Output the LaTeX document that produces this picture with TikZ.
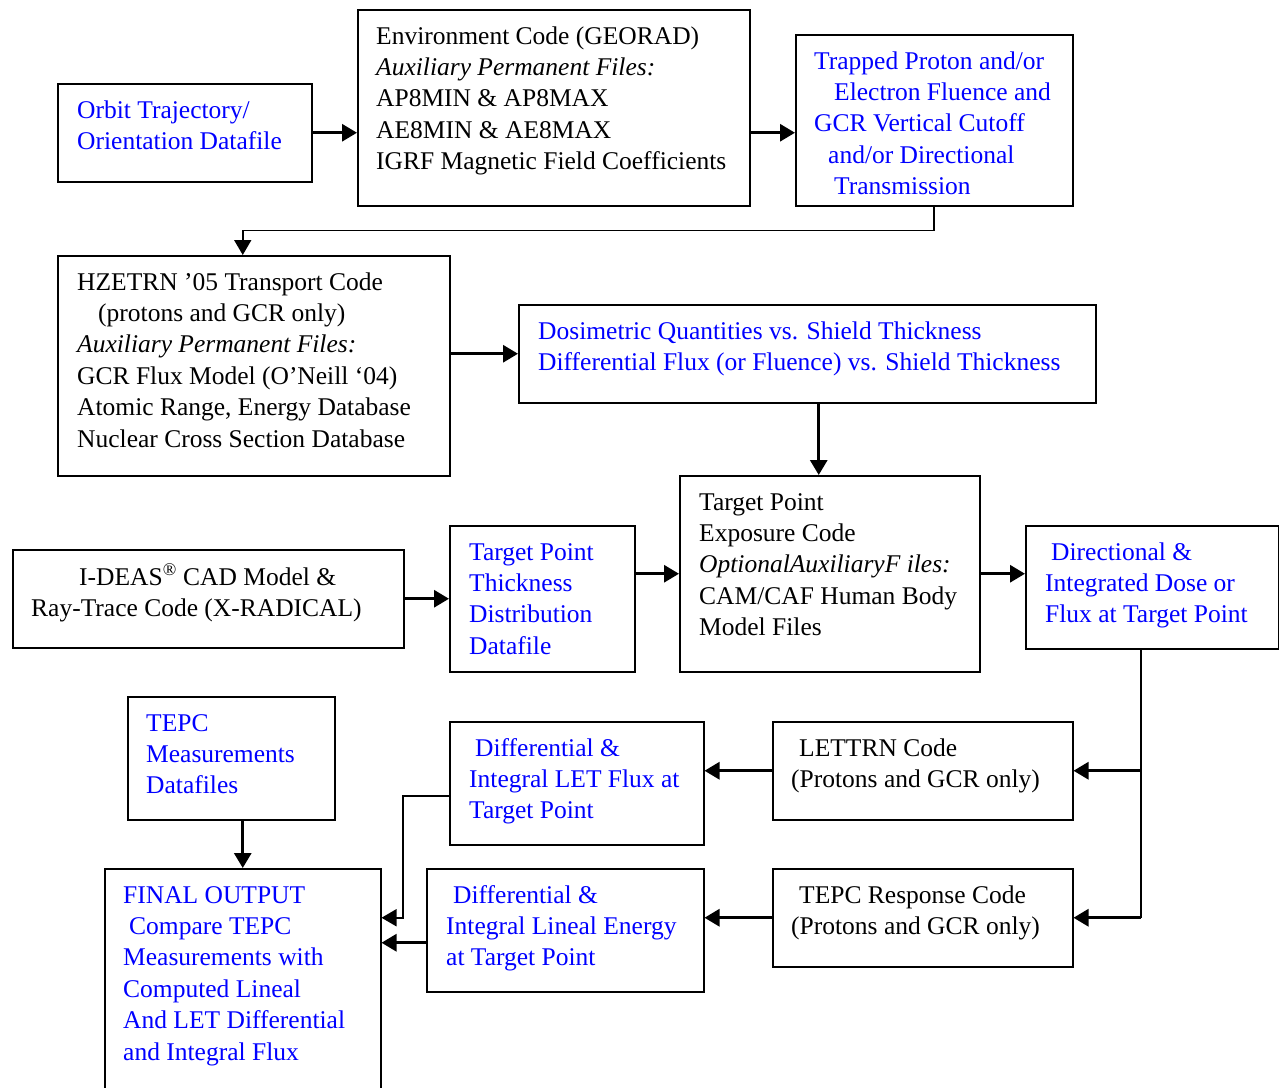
\documentclass[tikz,border=0pt]{standalone}
\usepackage{fontspec}
\setmainfont{Liberation Serif}
\usetikzlibrary{arrows.meta}
\definecolor{txtblue}{RGB}{0,0,255}
\tikzset{
  box/.style={draw=black, line width=1.5pt, anchor=north west, inner sep=0pt},
  txt/.style={anchor=base west, inner sep=0pt, font=\fontsize{25.5}{31.4}\selectfont},
  bl/.style={txt, text=txtblue},
  heavy/.style={line width=3pt, -{Triangle[length=15pt,width=17pt]}},
  light/.style={line width=1.8pt, -{Triangle[length=15pt,width=17pt]}},
  plain/.style={line width=1.8pt}
}
\newcommand{\pb}[1]{\parbox[t]{600pt}{#1}}
\begin{document}
\begin{tikzpicture}[x=1pt,y=-1pt]
\useasboundingbox (0,0) rectangle (1279,1087);
\fill[white] (0,0) rectangle (1279,1087);
\clip (0,0) rectangle (1279,1087);

% boxes
\node[box, minimum width=254pt, minimum height=98pt] (orbit) at (57,83) {};
\node[box, minimum width=392pt, minimum height=196pt] (env) at (357,9) {};
\node[box, minimum width=277pt, minimum height=171pt] (trap) at (795,34) {};
\node[box, minimum width=392pt, minimum height=220pt] (hze) at (57,255) {};
\node[box, minimum width=577pt, minimum height=98pt] (dos) at (518,304) {};
\node[box, minimum width=300pt, minimum height=196pt] (tpe) at (679,475) {};
\node[box, minimum width=391pt, minimum height=98pt] (ideas) at (12,549) {};
\node[box, minimum width=185pt, minimum height=146pt] (thick) at (449,525) {};
\node[box, minimum width=253pt, minimum height=123pt] (dir) at (1025,525) {};
\node[box, minimum width=207pt, minimum height=123pt] (tepcm) at (127,696) {};
\node[box, minimum width=254pt, minimum height=123pt] (dlet) at (449,721) {};
\node[box, minimum width=300pt, minimum height=98pt] (lettrn) at (772,721) {};
\node[box, minimum width=276pt, minimum height=240pt] (final) at (104,868) {};
\node[box, minimum width=277pt, minimum height=123pt] (dlin) at (426,868) {};
\node[box, minimum width=300pt, minimum height=98pt] (tepcr) at (772,868) {};

% texts
\node[bl] (orbit-t) at (77,118) {\pb{Orbit Trajectory/\\Orientation Datafile}};
\node[txt] (env-t) at (376,44) {\pb{Environment Code (GEORAD)\\\textit{Auxiliary Permanent Files:}\\AP8MIN \& AP8MAX\\AE8MIN \& AE8MAX\\IGRF Magnetic Field Coefficients}};
\node[bl] (trap-t) at (814,69) {\pb{Trapped Proton and/or\\\hspace*{20pt}Electron Fluence and\\GCR Vertical Cutoff\\\hspace*{14pt}and/or Directional\\\hspace*{20pt}Transmission}};
\node[txt] (hze-t) at (77,290) {\pb{HZETRN ’05 Transport Code\\\hspace*{21pt}(protons and GCR only)\\\textit{Auxiliary Permanent Files:}\\GCR Flux Model (O’Neill ‘04)\\Atomic Range, Energy Database\\Nuclear Cross Section Database}};
\node[bl] (dos-t) at (538,339) {\pb{Dosimetric Quantities vs. Shield Thickness\\Differential Flux (or Fluence) vs. Shield Thickness}};
\node[txt] (tpe-t) at (699,510) {\pb{Target Point\\Exposure Code\\\textit{OptionalAuxiliaryF iles:}\\CAM/CAF Human Body\\Model Files}};
\node[txt] (ideas-t) at (31,585) {\pb{\hspace*{48pt}I-DEAS\textsuperscript{®} CAD Model \&\\Ray-Trace Code (X-RADICAL)}};
\node[bl] (thick-t) at (469,560) {\pb{Target Point\\Thickness\\Distribution\\Datafile}};
\node[bl] (dir-t) at (1045,560) {\pb{\hspace*{6pt}Directional \&\\Integrated Dose or\\Flux at Target Point}};
\node[bl] (tepcm-t) at (146,731) {\pb{TEPC\\Measurements\\Datafiles}};
\node[bl] (dlet-t) at (469,756) {\pb{\hspace*{6pt}Differential \&\\Integral LET Flux at\\Target Point}};
\node[txt] (lettrn-t) at (791,756) {\pb{\hspace*{8pt}LETTRN Code\\(Protons and GCR only)}};
\node[bl] (final-t) at (123,903) {\pb{FINAL OUTPUT\\\hspace*{6pt}Compare TEPC\\Measurements with\\Computed Lineal\\And LET Differential\\and Integral Flux}};
\node[bl] (dlin-t) at (446,903) {\pb{\hspace*{7pt}Differential \&\\Integral Lineal Energy\\at Target Point}};
\node[txt] (tepcr-t) at (791,903) {\pb{\hspace*{8pt}TEPC Response Code\\(Protons and GCR only)}};

% connectors
\draw[heavy] (orbit.east) -- (orbit.east -| env.west);
\draw[heavy] (env.east |- orbit.east) -- (trap.west |- orbit.east);
\draw[light] (trap.south) -- ++(0,24) -| ([xshift=-11pt]hze.north);
\draw[heavy] (hze.east |- dos.west) -- (dos.west);
\draw[heavy] ([xshift=11.5pt]dos.south) -- ([xshift=-11pt]tpe.north);
\draw[heavy] (ideas.east) -- (thick.west);
\draw[heavy] (thick.east |- tpe.west) -- (tpe.west);
\draw[heavy] (tpe.east) -- (dir.west |- tpe.east);
\coordinate (bus) at ([xshift=-11.5pt]dir.south);
\draw[plain] (bus) -- (bus |- tepcr.east);
\draw[heavy] (bus |- lettrn.east) -- (lettrn.east);
\draw[heavy] (bus |- tepcr.east) -- (tepcr.east);
\draw[heavy] (lettrn.west) -- (dlet.east |- lettrn.west);
\draw[heavy] (tepcr.west) -- (dlin.east |- tepcr.west);
\draw[light] ([yshift=-12.5pt]dlet.west) -- ++(-46,0) |- (final.east |- tepcr.west);
\draw[heavy] ([yshift=-12.5pt]dlin.west) coordinate (q) -- (q -| final.east);
\draw[heavy] ([xshift=11.5pt]tepcm.south) -- (final.north);
\end{tikzpicture}
\end{document}
